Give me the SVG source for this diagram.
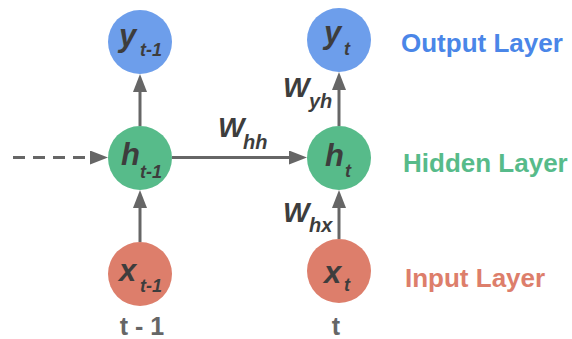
<svg xmlns="http://www.w3.org/2000/svg" width="572" height="339" viewBox="0 0 572 339">
<style>
.lbl{font-family:"Liberation Sans",Arial,sans-serif;font-weight:bold;font-style:italic;fill:#3d3d3d}
.main{font-size:31px}
.sub{font-size:18px}
.w{font-size:28px}
.wsub{font-size:20px}
.layer{font-family:"Liberation Sans",Arial,sans-serif;font-weight:bold;font-size:26px}
.time{font-family:"Liberation Sans",Arial,sans-serif;font-weight:bold;font-size:25px;fill:#666666;text-anchor:middle}
.conn{stroke:#666666;stroke-width:3;fill:none}
.blue{fill:#6d9eeb}
.green{fill:#57bb8a}
.red{fill:#dd7e6b}
</style>
<defs>
<marker id="ah" markerUnits="userSpaceOnUse" viewBox="0 0 18 14" markerWidth="18" markerHeight="14" refX="12" refY="7" orient="auto">
<path d="M0,0 L18,7 L0,14 z" fill="#666666"/>
</marker>
</defs>
<rect width="572" height="339" fill="#ffffff"/>
<g id="connectors">
<line class="conn" x1="140" y1="126" x2="140" y2="80" marker-end="url(#ah)"/>
<line class="conn" x1="140" y1="242" x2="140" y2="196" marker-end="url(#ah)"/>
<line class="conn" x1="339" y1="126" x2="339" y2="78" marker-end="url(#ah)"/>
<line class="conn" x1="339" y1="239" x2="339" y2="196" marker-end="url(#ah)"/>
<line class="conn" x1="172" y1="157.5" x2="301" y2="157.5" marker-end="url(#ah)"/>
<line class="conn" x1="13" y1="157.5" x2="102" y2="157.5" stroke-dasharray="12 8" marker-end="url(#ah)"/>
<text class="lbl w" x="218" y="137">W<tspan class="wsub" x="243" y="149">hh</tspan></text>
<text class="lbl w" x="283" y="97">W<tspan class="wsub" x="309" y="108">yh</tspan></text>
<text class="lbl w" x="283" y="222">W<tspan class="wsub" x="309" y="232">hx</tspan></text>
</g>
<g id="y_t-1">
<circle class="blue" cx="140" cy="42" r="32"/>
<text class="lbl main" x="119" y="46">y<tspan class="sub" x="140" y="56">t-1</tspan></text>
</g>
<g id="h_t-1">
<circle class="green" cx="140" cy="158" r="32"/>
<text class="lbl main" x="121" y="165">h<tspan class="sub" x="140" y="178">t-1</tspan></text>
</g>
<g id="x_t-1">
<circle class="red" cx="140" cy="274" r="32"/>
<text class="lbl main" x="119" y="281">x<tspan class="sub" x="140" y="292">t-1</tspan></text>
</g>
<g id="y_t">
<circle class="blue" cx="339" cy="40" r="32"/>
<text class="lbl main" x="324" y="43">y<tspan class="sub" x="344" y="55">t</tspan></text>
</g>
<g id="h_t">
<circle class="green" cx="339" cy="158" r="32"/>
<text class="lbl main" x="325" y="166">h<tspan class="sub" x="345" y="177">t</tspan></text>
</g>
<g id="x_t">
<circle class="red" cx="339" cy="271" r="32"/>
<text class="lbl main" x="324" y="283">x<tspan class="sub" x="344" y="291">t</tspan></text>
</g>
<g id="labels">
<text class="layer" x="401" y="52" fill="#4a86e8">Output Layer</text>
<text class="layer" x="403" y="172" fill="#57bb8a">Hidden Layer</text>
<text class="layer" x="405" y="287" fill="#dd7e6b">Input Layer</text>
<text class="time" x="142" y="335">t - 1</text>
<text class="time" x="336" y="335">t</text>
</g>
</svg>
